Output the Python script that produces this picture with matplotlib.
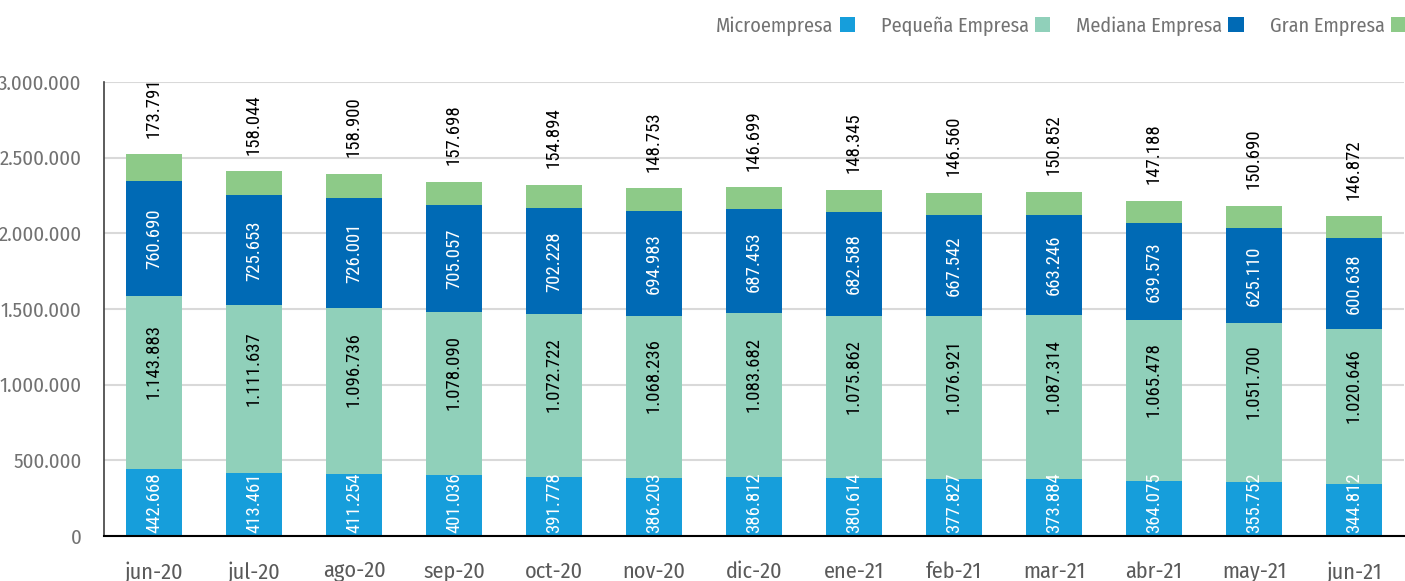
import matplotlib
matplotlib.use("Agg")
import matplotlib.pyplot as plt
from matplotlib.patches import Patch
from matplotlib.ticker import FuncFormatter, MultipleLocator
import numpy as np

months = ["jun-20", "jul-20", "ago-20", "sep-20", "oct-20", "nov-20", "dic-20",
          "ene-21", "feb-21", "mar-21", "abr-21", "may-21", "jun-21"]
micro = [442668, 413461, 411254, 401036, 391778, 386203, 386812,
         380614, 377827, 373884, 364075, 355752, 344812]
pequena = [1143883, 1111637, 1096736, 1078090, 1072722, 1068236, 1083682,
           1075862, 1076921, 1087314, 1065478, 1051700, 1020646]
mediana = [760690, 725653, 726001, 705057, 702228, 694983, 687453,
           682588, 667542, 663246, 639573, 625110, 600638]
gran = [173791, 158044, 158900, 157698, 154894, 148753, 146699,
        148345, 146560, 150852, 147188, 150690, 146872]
series_names = ["Microempresa", "Pequeña Empresa", "Mediana Empresa", "Gran Empresa"]
colors = ["#169EDB", "#90D0BA", "#006AB5", "#8DCA88"]

AXFONT = ["Fira Sans Condensed", "DejaVu Sans"]
LABFONT = ["Roboto Condensed", "DejaVu Sans"]
plt.rcParams["font.family"] = AXFONT


def fmt(v):
    return f"{int(round(v)):,}".replace(",", ".")


fig = plt.figure(figsize=(14.05, 5.81), dpi=100)
ax = fig.add_axes([104 / 1405, 45 / 581, 1300 / 1405, 454 / 581])

x = np.arange(len(months))
w = 0.56
data = [micro, pequena, mediana, gran]
bottom = np.zeros(len(months))
segs = []
for vals, c in zip(data, colors):
    v = np.array(vals, dtype=float)
    ax.bar(x, v, w, bottom=bottom, color=c, zorder=3, linewidth=0)
    segs.append((v, bottom.copy()))
    bottom = bottom + v

lab_fs = 13.5
lab_kw = dict(rotation=90, ha="center", textcoords="offset points",
              fontsize=lab_fs, family=LABFONT, zorder=5)
for xi, v in zip(x, segs[0][0]):
    ax.annotate(fmt(v), (xi, 0), xytext=(0, 2.5), va="bottom", color="white", **lab_kw)
for xi, v, b in zip(x, *segs[1]):
    ax.annotate(fmt(v), (xi, b + v / 2), xytext=(0, 15), va="center", color="black", **lab_kw)
for xi, v, b in zip(x, *segs[2]):
    ax.annotate(fmt(v), (xi, b + v / 2), xytext=(0, 0), va="center", color="white", **lab_kw)
for xi, v, b in zip(x, *segs[3]):
    ax.annotate(fmt(v), (xi, b + v), xytext=(0, 12), va="bottom", color="black", **lab_kw)

ax.set_xlim(-0.5, len(months) - 0.5)
ax.set_ylim(0, 3000000)
ax.yaxis.set_major_locator(MultipleLocator(500000))
ax.yaxis.set_major_formatter(FuncFormatter(lambda v, p: fmt(v)))
ax.set_xticks(x)
ax.set_xticklabels(months)
ax.tick_params(axis="y", length=0, pad=16, labelsize=15, labelcolor="#727272")
ax.tick_params(axis="x", length=0, pad=18, labelsize=16, labelcolor="#5A5A5A")
ax.grid(axis="y", color="#D9D9D9", linewidth=1.5, zorder=0)
ax.set_axisbelow(True)
for s in ["top", "right"]:
    ax.spines[s].set_visible(False)
ax.spines["left"].set_color("#404040")
ax.spines["left"].set_linewidth(1.2)
ax.spines["bottom"].set_color("#000000")
ax.spines["bottom"].set_linewidth(1.5)
ax.spines["bottom"].set_zorder(4)

handles = [Patch(facecolor=c, edgecolor="none") for c in colors]
leg = fig.legend(handles, series_names, loc="upper right", ncol=4,
                 bbox_to_anchor=(1.012, 1.0), frameon=False, markerfirst=False,
                 prop={"family": AXFONT, "size": 14.5},
                 handlelength=0.75, handleheight=0.75,
                 handletextpad=0.3, columnspacing=1.3, borderaxespad=0.4)
for t in leg.get_texts():
    t.set_color("#727272")

fig.savefig("out.png", dpi=100)
